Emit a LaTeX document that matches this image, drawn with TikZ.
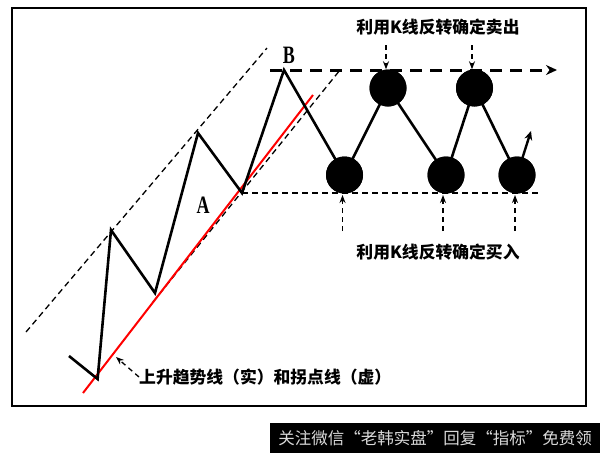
\documentclass[tikz,border=0pt]{standalone}
\usepackage{graphicx}
\usepackage{fontspec}
\setmainfont{Liberation Serif}
\newfontfamily\cjk{Noto Sans CJK SC}
\usetikzlibrary{arrows.meta}
\tikzset{
  zig/.style={line width=2.6pt, line join=miter},
  ball/.style={circle, fill=black, minimum size=37pt, inner sep=0pt},
  thindash/.style={line width=1.3pt, dash pattern=on 6pt off 4pt},
  thickdash/.style={line width=3pt, dash pattern=on 12pt off 8pt},
  markarrow/.style={line width=1.3pt, dash pattern=on 5pt off 4pt, -{Stealth[length=8pt,width=6pt]}},
  cnlabel/.style={font=\cjk\bfseries\fontsize{16.8}{18}\selectfont, inner sep=0pt},
  letter/.style={font=\bfseries\fontsize{25}{26}\selectfont, inner sep=0pt},
}
\begin{document}
\begin{tikzpicture}[x=1pt,y=-1pt]
\useasboundingbox (0,0) rectangle (600,453);
\fill[white] (0,0) rectangle (600,453);
\draw[line width=2pt] (11.5,7.5) rectangle (586,406);
% watermark
\node[fill=black, minimum width=330pt, minimum height=30pt, inner sep=0pt,
      text=white!85!black, font=\cjk\fontsize{16.5}{18}\selectfont] (wm) at (435,438)
      {关注微信“老韩实盘”回复“指标”免费领};
% trend lines
\draw[thindash] (26,332) -- (267,48);
\draw[thindash] (153,302) -- (340,70);
\draw[red, line width=2pt] (83,393) -- (313,95);
% key points
\coordinate (s0) at (69,356);
\coordinate (v0) at (97.6,379);
\coordinate (p1) at (111,230);
\coordinate (v1) at (155,293);
\coordinate (p2) at (198,133);
\coordinate (a) at (242,193);
\coordinate (b) at (284,70);
\node[ball] (c1) at (344.5,175) {};
\node[ball] (c2) at (388,88) {};
\node[ball] (c3) at (446,175) {};
\node[ball] (c4) at (474.5,88) {};
\node[ball] (c5) at (517,175) {};
% horizontal lines
\coordinate (hl) at (270,70);
\coordinate (hr) at (557,70);
\draw[thickdash, -{Stealth[length=11pt,width=10pt]}] (hl) -- (hr);
\coordinate (ll) at (242,193);
\coordinate (lr) at (540,193);
\draw[thindash] (ll) -- (lr);
% zigzag
\draw[zig] (s0) -- (v0) -- (p1) -- (v1) -- (p2) -- (a) -- (b) -- (c1.center) -- (c2.center) -- (c3.center) -- (c4.center) -- (c5.center);
\coordinate (up) at (531,131);
\draw[line width=2.4pt, -{Stealth[length=9pt,width=8pt]}] (c5.center) -- (up);
\foreach \c in {c1,c2,c3,c4,c5} \node[ball] at (\c) {};
% labels
\node[letter] (la) at (203,205) {\scalebox{0.72}[1]{A}};
\node[letter] (lb) at (289,55) {\scalebox{0.72}[1]{B}};
\node[cnlabel] (sell) at (438,27) {利用K线反转确定卖出};
\node[cnlabel] (buy) at (438,252) {利用K线反转确定买入};
\node[cnlabel, anchor=west] (trend) at (139,377) {上升趋势线（实）和拐点线（虚）};
% marker arrows
\coordinate (s1) at (386,45);
\coordinate (s2) at (472,45);
\draw[markarrow] (s1) -- (c2.north -| s1);
\draw[markarrow] (s2) -- (c4.north -| s2);
\coordinate (b1) at (342.5,231);
\coordinate (b2) at (443,231);
\coordinate (b3) at (515,231);
\draw[markarrow] (b1) -- ++(0,-36);
\draw[markarrow] (b2) -- ++(0,-36);
\draw[markarrow] (b3) -- ++(0,-36);
\coordinate (tr) at (116,357);
\draw[markarrow] (trend.west) -- (tr);
\end{tikzpicture}
\end{document}
